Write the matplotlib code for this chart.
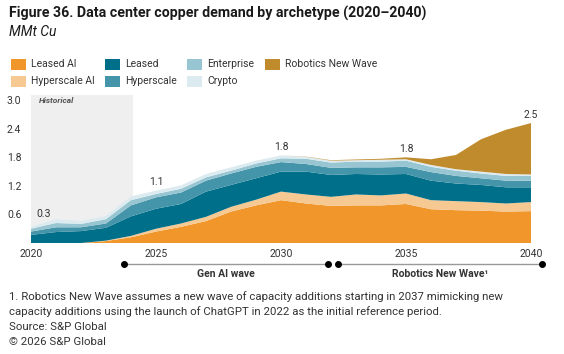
import numpy as np
import matplotlib
matplotlib.use("Agg")
from matplotlib import pyplot as plt
from matplotlib.patches import Rectangle

plt.rcParams['font.family'] = ['Roboto', 'DejaVu Sans']

#----------------------
# データ (MMt Cu)
#----------------------
years = list(range(2020, 2041))

leased_ai = [0, 0, 0, 0.04, 0.12, 0.24, 0.34, 0.46, 0.66, 0.79, 0.90,
             0.83, 0.78, 0.79, 0.79, 0.82, 0.71, 0.69, 0.68, 0.66, 0.67]
hyperscale_ai = [0, 0, 0, 0.01, 0.03, 0.06, 0.07, 0.09, 0.10, 0.12, 0.18,
                 0.19, 0.19, 0.23, 0.21, 0.22, 0.19, 0.19, 0.18, 0.17, 0.19]
leased = [0.17, 0.23, 0.25, 0.27, 0.41, 0.42, 0.41, 0.53, 0.46, 0.45, 0.42,
          0.48, 0.46, 0.43, 0.44, 0.41, 0.41, 0.37, 0.36, 0.34, 0.31]
hyperscale = [0.07, 0.10, 0.08, 0.09, 0.23, 0.24, 0.24, 0.23, 0.24, 0.24, 0.20,
              0.16, 0.15, 0.14, 0.15, 0.15, 0.18, 0.16, 0.14, 0.14, 0.14]
enterprise = [0.06, 0.09, 0.07, 0.09, 0.11, 0.07, 0.08, 0.07, 0.06, 0.07, 0.08,
              0.11, 0.11, 0.12, 0.12, 0.13, 0.11, 0.11, 0.10, 0.10, 0.10]
crypto = [0.04, 0.08, 0.06, 0.07, 0.08, 0.07, 0.07, 0.07, 0.07, 0.06, 0.06,
          0.04, 0.04, 0.03, 0.04, 0.03, 0.04, 0.03, 0.04, 0.04, 0.03]
robotics = [0, 0, 0, 0, 0, 0, 0, 0, 0, 0, 0,
            0.005, 0.01, 0.015, 0.02, 0.04, 0.12, 0.30, 0.68, 0.93, 1.08]

series_names = ["Leased AI", "Hyperscale AI", "Leased", "Hyperscale",
                "Enterprise", "Crypto", "Robotics New Wave"]
series_colors = ["#F0962B", "#F6C993", "#006F89", "#4495AA",
                 "#98C5D2", "#DCEBF0", "#C08B2D"]

label_years = [2020, 2025, 2030, 2035, 2040]
label_texts = ["0.3", "1.1", "1.8", "1.8", "2.5"]

y_ticks = [0.6, 1.2, 1.8, 2.4, 3.0]
x_ticks = [2020, 2025, 2030, 2035, 2040]

historical_end = 2024.08
waves = [("Gen AI wave", 2023.72, 2031.88),
         ("Robotics New Wave\u00b9", 2032.28, 2040.43)]

#----------------------
# 図の作成
#----------------------
W, H = 564, 354
fig = plt.figure(figsize=(W / 100, H / 100), dpi=100)
ax = fig.add_axes([31 / W, 1 - 243 / H, 500 / W, 148 / H])

stack = [leased_ai, hyperscale_ai, leased, hyperscale, enterprise, crypto, robotics]
ax.stackplot(years, *stack, colors=series_colors, linewidth=0, zorder=2)

# 実績期間の網掛け
ax.axvspan(2020, historical_end, color="#EFEFEF", zorder=0, lw=0)
ax.text(2020.3, 3.0, "Historical", fontsize=6, style="italic",
        fontweight="bold", color="#555555", va="center", ha="left")

ax.set_xlim(2020, 2040)
ax.set_ylim(0, 3.11)
ax.set_yticks(y_ticks)
ax.set_yticklabels([f"{v:.1f}" for v in y_ticks])
ax.set_xticks(x_ticks)
ax.tick_params(axis="both", length=0, labelsize=7.5, colors="#333333")
ax.tick_params(axis="y", pad=7)
ax.tick_params(axis="x", pad=4)
for s in ax.spines.values():
    s.set_visible(False)

# 合計値ラベル
totals = np.sum(np.array(stack), axis=0)
for yr, txt in zip(label_years, label_texts):
    v = totals[years.index(yr)]
    if yr == 2020:
        ax.annotate(txt, (yr, v), xytext=(4, 9), textcoords="offset points",
                    ha="left", va="center", fontsize=7.5, color="#333333")
    else:
        ax.annotate(txt, (yr, v), xytext=(0, 6), textcoords="offset points",
                    ha="center", va="center", fontsize=7.5, color="#333333")

# 波の期間
tr = ax.get_xaxis_transform()
for name, x0, x1 in waves:
    ax.plot([x0, x1], [-0.142, -0.142], color="#999999", lw=1, transform=tr,
            clip_on=False, zorder=3)
    ax.plot([x0, x1], [-0.142, -0.142], "o", color="black", ms=4, transform=tr,
            clip_on=False, zorder=4)
    ax.text((x0 + x1) / 2, -0.21, name, transform=tr, ha="center", va="center",
            fontsize=7.5, fontweight="bold", color="#333333")

# タイトル
fig.text(9 / W, 1 - 13 / H, "Figure 36. Data center copper demand by archetype (2020\u20132040)",
         fontsize=10.2, fontweight="bold", color="#1A1A1A", va="center", ha="left")
fig.text(9 / W, 1 - 32 / H, "MMt Cu", fontsize=10, style="italic",
         color="#1A1A1A", va="center", ha="left")

# 凡例 (手動配置)
legend_pos = [(11, 64), (11, 81.5), (105, 64), (105, 81.5),
              (187, 64), (187, 81.5), (265, 64)]
for (lx, ly), name, col in zip(legend_pos, series_names, series_colors):
    fig.add_artist(Rectangle((lx / W, 1 - (ly + 5.5) / H), 15 / W, 11 / H,
                             transform=fig.transFigure, facecolor=col, lw=0))
    fig.text((lx + 20) / W, 1 - ly / H, name, fontsize=7.5, color="#333333",
             va="center", ha="left")

# 脚注
notes = ["1. Robotics New Wave assumes a new wave of capacity additions starting in 2037 mimicking new",
         "capacity additions using the launch of ChatGPT in 2022 as the initial reference period.",
         "Source: S&P Global",
         "\u00a9 2026 S&P Global"]
for i, line in enumerate(notes):
    fig.text(9 / W, 1 - (297 + 15 * i) / H, line, fontsize=8.2, color="#333333",
             va="center", ha="left")

fig.savefig("out.png", dpi=100)
